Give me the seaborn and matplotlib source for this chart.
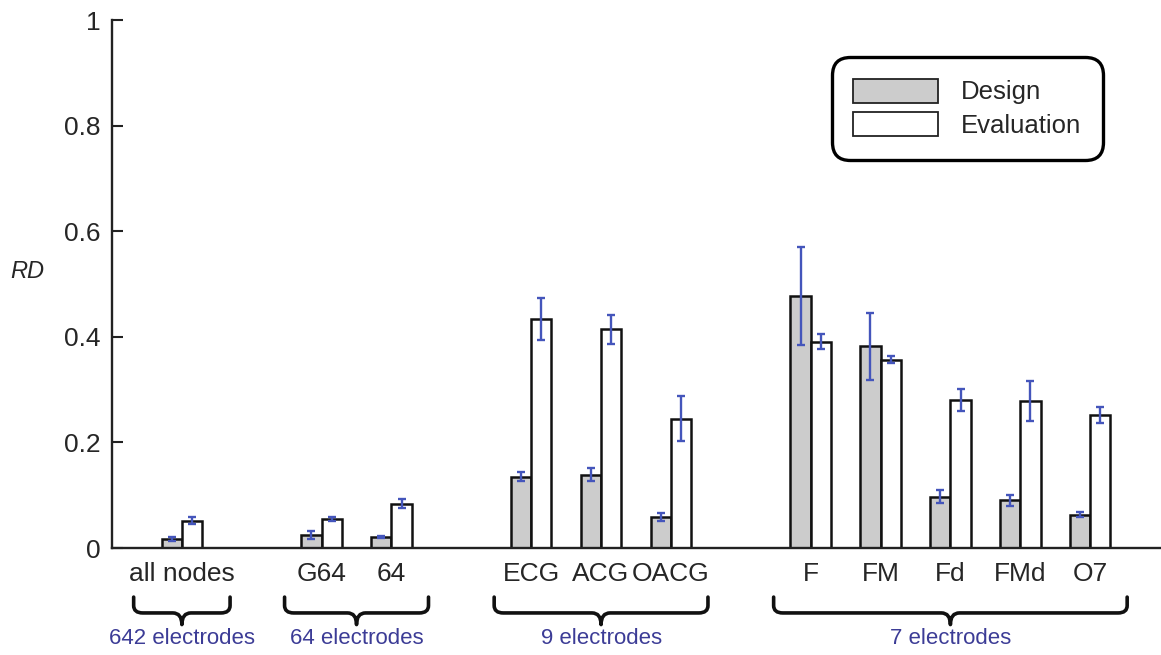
import matplotlib
matplotlib.use("Agg")
import matplotlib.pyplot as plt
import matplotlib.transforms as mtransforms
from matplotlib.path import Path
from matplotlib.patches import PathPatch
import seaborn as sns
import pandas as pd
import numpy as np

# ---------------- data ----------------
labels = ["all nodes", "G64", "64", "ECG", "ACG", "OACG", "F", "FM", "Fd", "FMd", "O7"]
positions = [0, 2, 3, 5, 6, 7, 9, 10, 11, 12, 13]
design = [0.017, 0.025, 0.020, 0.135, 0.139, 0.059, 0.477, 0.382, 0.097, 0.090, 0.063]
design_err = [0.003, 0.008, 0.002, 0.009, 0.012, 0.007, 0.093, 0.063, 0.012, 0.010, 0.005]
evaluation = [0.052, 0.055, 0.084, 0.433, 0.414, 0.245, 0.391, 0.357, 0.281, 0.278, 0.252]
evaluation_err = [0.006, 0.003, 0.009, 0.040, 0.027, 0.043, 0.015, 0.006, 0.021, 0.038, 0.015]
groups = [["all nodes"], ["G64", "64"], ["ECG", "ACG", "OACG"], ["F", "FM", "Fd", "FMd", "O7"]]
group_labels = ["642 electrodes", "64 electrodes", "9 electrodes", "7 electrodes"]
ytick_values = [0, 0.2, 0.4, 0.6, 0.8, 1]
ytick_labels = ["0", "0.2", "0.4", "0.6", "0.8", "1"]
series_names = ["Design", "Evaluation"]

# ---------------- style ----------------
sns.set_style("ticks")
plt.rcParams["font.family"] = ["Liberation Sans", "DejaVu Sans"]

ERR_COLOR = "#4455BB"
TXT_BLUE = "#3C3C96"

df = pd.DataFrame({
    "pos": positions * 2,
    "RD": design + evaluation,
    "condition": [series_names[0]] * len(design) + [series_names[1]] * len(evaluation),
})

fig = plt.figure(figsize=(11.61, 6.55), dpi=100)
ax = fig.add_axes([112 / 1161, 107 / 655, (1160 - 112) / 1161, (548 - 20) / 655])

sns.barplot(data=df, x="pos", y="RD", hue="condition", native_scale=True,
            width=0.58, palette={"Design": "#cccccc", "Evaluation": "white"},
            edgecolor="#111111", linewidth=1.8, errorbar=None, dodge=True,
            saturation=1, ax=ax)

# error bars at the bar centres
for cont, vals, errs in zip(ax.containers, [design, evaluation], [design_err, evaluation_err]):
    xs = [r.get_x() + r.get_width() / 2 for r in cont.patches]
    ax.errorbar(xs, vals, yerr=errs, fmt="none", ecolor=ERR_COLOR, elinewidth=1.7,
                capsize=3.2, capthick=1.7, zorder=5)

ax.set_xlim(-1, 14)
ax.set_ylim(0, 1)
ax.set_xticks(positions)
ax.set_xticklabels(labels, fontsize=19)
ax.set_yticks(ytick_values)
ax.set_yticklabels(ytick_labels, fontsize=19)
ax.tick_params(axis="x", length=0, pad=10)
ax.tick_params(axis="y", direction="in", length=8, width=1.5, pad=8, color="#222222")
ax.set_xlabel("")
ax.set_ylabel("RD", fontsize=17, style="italic", rotation=0, ha="center", va="center")
ax.yaxis.set_label_coords(-0.081, 0.523)
sns.despine(ax=ax)
for s in ["left", "bottom"]:
    ax.spines[s].set_linewidth(1.7)
    ax.spines[s].set_color("#222222")

# legend
handles, lbls = ax.get_legend_handles_labels()
leg = ax.legend(handles, lbls, loc="upper right", bbox_to_anchor=(0.946, 0.93),
                borderaxespad=0, fontsize=18.5, handlelength=3.3, handleheight=1.05,
                handletextpad=0.9, labelspacing=0.3, borderpad=0.85,
                frameon=True, fancybox=True, title=None)
frame = leg.get_frame()
frame.set_boxstyle("round,pad=0,rounding_size=0.7")
frame.set_edgecolor("black")
frame.set_linewidth(2.4)
frame.set_facecolor("white")
frame.set_alpha(1)
for h in leg.legend_handles:
    h.set_edgecolor("#222222")
    h.set_linewidth(1.3)

# group braces
trans = mtransforms.blended_transform_factory(ax.transData, ax.transAxes)
pos_of = dict(zip(labels, positions))
y_top, y_mid, y_tip = -0.093, -0.123, -0.145
for members, glabel in zip(groups, group_labels):
    p = [pos_of[m] for m in members]
    pad = 0.69 if len(members) == 1 else 0.53
    x0, x1 = min(p) - pad, max(p) + pad
    xc = (x0 + x1) / 2
    rx = 0.13
    ry = 0.014
    verts = [
        (x0, y_top), (x0, y_mid + ry),
        (x0, y_mid), (x0 + rx, y_mid),
        (xc - rx, y_mid),
        (xc, y_mid), (xc, y_tip),
        (xc, y_mid), (xc + rx, y_mid),
        (x1 - rx, y_mid),
        (x1, y_mid), (x1, y_mid + ry),
        (x1, y_top),
    ]
    codes = [Path.MOVETO, Path.LINETO,
             Path.CURVE3, Path.CURVE3,
             Path.LINETO,
             Path.CURVE3, Path.CURVE3,
             Path.CURVE3, Path.CURVE3,
             Path.LINETO,
             Path.CURVE3, Path.CURVE3,
             Path.LINETO]
    patch = PathPatch(Path(verts, codes), facecolor="none", edgecolor="#111111",
                      linewidth=2.6, transform=trans, clip_on=False, capstyle="round",
                      joinstyle="round")
    ax.add_patch(patch)
    ax.text(xc, -0.172, glabel, transform=trans, ha="center", va="center",
            fontsize=16, color=TXT_BLUE, clip_on=False)

fig.savefig("out.png", dpi=100)
